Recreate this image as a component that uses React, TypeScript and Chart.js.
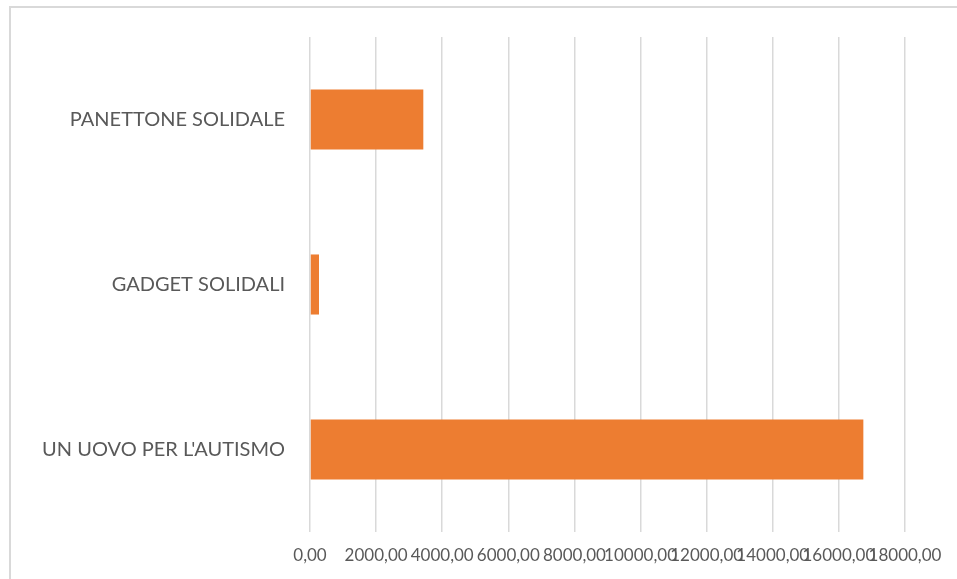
import React, { useEffect, useRef } from "react";
import { Chart, registerables } from "chart.js";

Chart.register(...registerables);

const categories = ["PANETTONE SOLIDALE", "GADGET SOLIDALI", "UN UOVO PER L'AUTISMO"];
const values = [3428, 272, 16740];
const xMin = 0;
const xMax = 18000;
const xStep = 2000;

const fmt = (v: number) => v.toFixed(2).replace(".", ",");

export default function App() {
  const ref = useRef<HTMLCanvasElement | null>(null);
  useEffect(() => {
    if (!ref.current) return;
    const chart = new Chart(ref.current, {
      type: "bar",
      data: {
        labels: categories,
        datasets: [
          {
            data: values,
            backgroundColor: "#ED7D31",
            borderWidth: 0,
            barPercentage: 0.364,
            categoryPercentage: 1,
          },
        ],
      },
      options: {
        indexAxis: "y",
        animation: false,
        responsive: false,
        layout: { padding: { left: 0, right: 52, top: 37, bottom: 0 } },
        plugins: { legend: { display: false }, tooltip: { enabled: false } },
        scales: {
          x: {
            min: xMin,
            max: xMax,
            border: { display: false },
            grid: { color: "#d9d9d9", lineWidth: 1.5, drawTicks: false },
            ticks: {
              stepSize: xStep,
              autoSkip: false,
              maxRotation: 0,
              minRotation: 0,
              padding: 13,
              color: "#595959",
              font: { family: "Lato", size: 17 },
              callback: (v: any) => fmt(Number(v)),
            },
            afterFit: (s: any) => {
              s.height = 47;
            },
          },
          y: {
            border: { display: false },
            grid: { display: false, drawTicks: false },
            ticks: {
              padding: 25,
              color: "#595959",
              font: { family: "Lato", size: 20 },
            },
            afterFit: (s: any) => {
              s.width = 310;
            },
          },
        },
      },
    });
    return () => chart.destroy();
  }, []);
  return (
    <div style={{ position: "fixed", left: 0, top: 0, width: 957, height: 579, background: "#fff", overflow: "hidden" }}>
      <div
        style={{
          position: "absolute",
          left: 9,
          top: 6,
          width: 1000,
          height: 1000,
          border: "2px solid #d9d9d9",
        }}
      />
      <canvas ref={ref} width={957} height={579} style={{ position: "absolute", left: 0, top: 0 }} />
    </div>
  );
}
